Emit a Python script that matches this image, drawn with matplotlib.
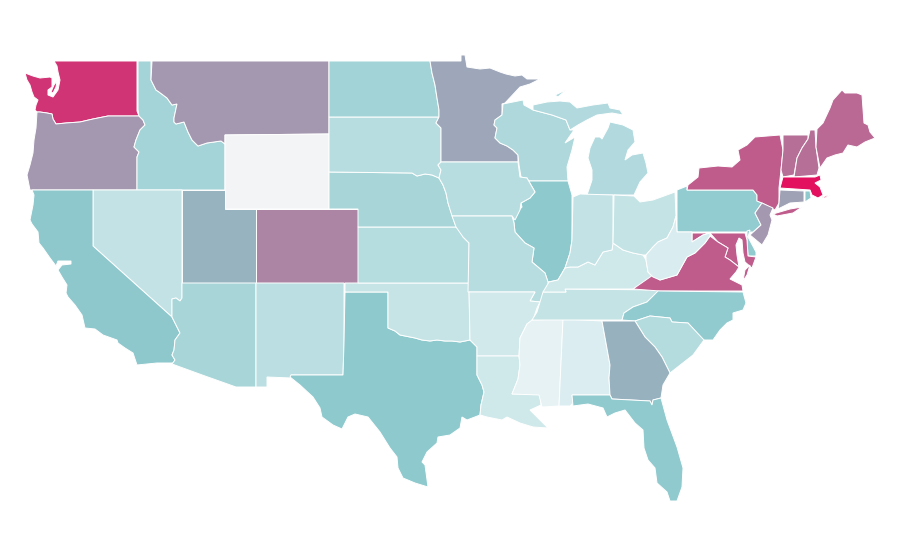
import matplotlib
matplotlib.use('Agg')
import matplotlib.pyplot as plt
from matplotlib.colors import LinearSegmentedColormap, Normalize
from matplotlib.patches import Polygon

# value per state (0-100)
state_names = ['WA','OR','ID','MT','WY','CO','UT','NV','CA','AZ','NM','TX','OK','KS','NE','SD','ND','MN',
               'WI','MI','IL','IA','MO','AR','LA','MS','AL','TN','KY','IN','OH','PA','NY','VT','NH','ME',
               'MA','CT','RI','NJ','DE','MD','VA','WV','NC','SC','GA','FL']
state_values = [88,56,31,56,0,62,47,19,41,30,22,40,17.5,24,30,23,32,51,
                27,25,40,23,23,13,14,5,9,18,14,19,18,37.5,75,69,69,71,
                100,53,39,56,38,75,75,10,38,24.5,48,39]

# outlines in picture units, one or more rings per state
outlines = {
'WA': [[(54,61),(137,61),(137,111),(139,116),(108,116),(93,119),(80,122),(66,123),(56,124),(53,119),(52,114),(47,113),(40,112),(37,112),(35,110),(36,105),(38,100),(34,97),(32,92),(30,85),(27,80),(25,73),(33,76),(40,78),(50,77),(52,78),(52,87),(48,90),(48,95),(53,97),(58,90),(60,80),(58,72),(57,66)],
       [(51,92),(54,85),(57,81),(56,87),(53,93)]],
'OR': [[(139,116),(108,116),(93,119),(80,122),(66,123),(56,124),(53,119),(52,114),(47,113),(40,112),(37,112),(36,128),(34,140),(33,153),(30,165),(27,175),(30,190),(137,190),(137,157),(139,152),(134,147),(136,140),(140,130),(145,125),(143,120)]],
'ID': [[(138,61),(151,61),(151,80),(156,90),(159,92),(167,98),(172,105),(177,104),(174,118),(174,122),(176,124),(184,122),(188,132),(192,140),(198,146),(207,143),(221,141),(225,144),(225,190),(137,190),(137,157),(139,152),(134,147),(136,140),(140,130),(145,125),(143,120),(139,116),(138,110)]],
'MT': [[(152,61),(329,61),(329,134),(225,135),(225,144),(221,141),(207,143),(198,146),(192,140),(188,132),(184,122),(176,124),(174,122),(174,118),(177,104),(172,105),(167,98),(159,92),(156,90),(151,80)]],
'WY': [[(225,135),(329,134),(329,209),(225,209)]],
'CO': [[(256,209),(358,209),(358,283),(256,283)]],
'UT': [[(182,190),(225,190),(225,209),(256,209),(256,283),(182,283)]],
'NV': [[(93,190),(182,190),(182,298),(180,301),(176,298),(172,299),(172,317),(93,246)]],
'CA': [[(32,190),(93,190),(93,246),(172,317),(176,325),(180,333),(175,340),(174,350),(172,355),(175,360),(173,363),(157,363),(137,365),(133,353),(125,348),(118,343),(117,340),(103,335),(95,329),(85,328),(82,315),(75,305),(68,297),(66,293),(67,285),(62,277),(58,270),(62,265),(71,264),(71,261),(58,261),(56,266),(50,258),(43,248),(39,243),(38,232),(32,224),(30,220),(33,205),(34,195)]],
'AZ': [[(182,283),(256,283),(256,387),(236,387),(205,376),(172,364),(175,360),(172,355),(174,350),(175,340),(180,333),(176,325),(172,317),(172,299),(176,298),(180,301),(182,298)]],
'NM': [[(256,283),(344,283),(344,343),(343,375),(291,375),(291,378),(267,377),(267,387),(256,387)]],
'TX': [[(345,292),(388,292),(388,328),(395,331),(400,335),(405,336),(415,338),(422,340),(430,341),(437,340),(445,341),(452,341),(460,342),(470,340),(477,347),(477,375),(482,385),(484,392),(481,405),(480,415),(467,420),(462,417),(460,428),(450,435),(438,437),(437,443),(427,452),(422,462),(425,465),(428,487),(415,483),(403,478),(398,468),(397,457),(390,448),(380,432),(368,417),(355,414),(348,417),(342,429),(333,425),(322,417),(320,408),(313,397),(300,385),(290,377),(291,375),(343,375),(344,343)]],
'OK': [[(345,283),(469,283),(470,340),(460,342),(452,341),(445,341),(437,340),(430,341),(422,340),(415,338),(405,336),(400,335),(395,331),(388,328),(388,292),(345,292)]],
'KS': [[(358,227),(456,227),(462,232),(463,237),(469,243),(469,283),(358,283)]],
'NE': [[(329,172),(412,173),(417,176),(425,174),(432,175),(439,178),(443,185),(446,193),(448,203),(452,215),(456,227),(358,227),(358,209),(329,209)]],
'SD': [[(329,117),(439,117),(436,123),(441,128),(441,162),(438,165),(441,170),(439,178),(432,175),(425,174),(417,176),(412,173),(329,172)]],
'ND': [[(329,61),(430,61),(432,73),(435,85),(437,98),(439,110),(439,117),(329,117)]],
'MN': [[(430,61),(461,61),(461,55),(465,55),(467,67),(480,69),(490,68),(500,72),(506,74),(515,76),(522,75),(527,79),(540,79),(530,84),(520,87),(505,103),(502,104),(502,115),(495,120),(494,125),(497,128),(495,138),(500,143),(507,146),(513,150),(518,155),(518,162),(441,162),(441,128),(436,123),(439,117),(439,110),(437,98),(435,85),(432,73)]],
'WI': [[(503,104),(523,100),(524,105),(533,110),(552,115),(566,120),(570,130),(574,130),(565,143),(575,137),(572,150),(567,167),(568,181),(528,181),(521,177),(519,165),(518,155),(513,150),(507,146),(500,143),(495,138),(497,128),(494,125),(495,120),(502,115)]],
'MI': [[(533,110),(533,105),(547,102),(560,101),(570,102),(577,108),(593,105),(608,103),(610,108),(620,110),(623,115),(612,113),(597,115),(587,120),(578,125),(570,130),(566,120),(552,115)],
       [(610,122),(623,125),(633,130),(635,142),(628,150),(625,160),(632,155),(643,153),(646,163),(648,173),(640,182),(634,195),(587,195),(592,180),(592,170),(588,158),(590,148),(595,137),(600,137),(602,139),(608,128)],
       [(555,95),(566,90),(558,97)]],
'IL': [[(528,181),(568,181),(572,195),(572,240),(570,253),(565,268),(558,280),(548,282),(545,273),(532,262),(534,248),(525,243),(515,232),(514,223),(513,217),(522,207),(521,203),(530,198),(535,192),(527,178),(520,177)]],
'IA': [[(441,162),(518,162),(520,177),(527,178),(535,192),(530,198),(521,203),(520,210),(515,220),(512,216),(452,216),(448,203),(446,193),(443,185),(439,178),(441,170),(438,165)]],
'MO': [[(452,216),(512,216),(514,223),(515,232),(525,243),(534,248),(532,262),(545,273),(548,282),(548,288),(545,295),(540,302),(530,301),(535,292),(468,292),(469,243),(463,237),(456,227)]],
'AR': [[(469,292),(535,292),(530,301),(540,302),(537,308),(533,320),(527,324),(520,338),(519,356),(477,356),(477,347),(470,340)]],
'LA': [[(477,356),(519,356),(520,365),(518,379),(512,394),(540,394),(541,405),(530,410),(537,417),(540,420),(548,428),(533,427),(520,423),(507,417),(502,420),(487,417),(480,415),(481,405),(484,392),(482,385),(477,375)]],
'MS': [[(532,320),(563,319),(559,406),(542,407),(539,395),(512,394),(518,379),(520,365),(519,356),(520,338),(527,324)]],
'AL': [[(563,319),(602,321),(610,365),(609,378),(610,395),(572,395),(573,403),(570,406),(559,406)]],
'TN': [[(543,292),(566,292),(565,289),(660,290),(647,302),(633,307),(624,313),(622,320),(532,320),(537,312)]],
'KY': [[(549,282),(558,280),(565,268),(570,267),(578,267),(588,262),(595,265),(603,252),(612,250),(613,243),(623,250),(633,253),(643,255),(646,260),(648,272),(653,277),(633,289),(565,289),(566,292),(543,292)]],
'IN': [[(573,197),(580,194),(613,195),(613,243),(612,250),(603,252),(595,265),(588,262),(578,267),(570,267),(565,268),(570,253),(572,240)]],
'OH': [[(614,195),(634,196),(640,202),(653,200),(675,192),(676,216),(673,227),(667,238),(658,242),(653,247),(646,255),(643,255),(633,253),(623,250),(613,243)]],
'PA': [[(677,190),(687,186),(687,190),(753,190),(757,195),(757,201),(762,203),(755,213),(757,217),(761,225),(753,232),(677,232)]],
'NY': [[(687,190),(688,185),(698,177),(699,168),(718,166),(732,167),(740,160),(738,150),(747,145),(755,137),(780,135),(783,150),(781,170),(779,188),(779,203),(775,210),(762,203),(757,201),(757,195),(753,190)],
       [(773,214),(790,209),(802,207),(793,213),(777,216)]],
'VT': [[(783,135),(808,135),(808,139),(802,148),(797,158),(794,175),(783,177),(781,170),(783,150)]],
'NH': [[(810,130),(815,130),(816,147),(819,168),(817,175),(794,177),(797,158),(802,148),(808,139)]],
'ME': [[(817,129),(823,123),(830,108),(833,100),(842,90),(845,93),(857,93),(862,95),(864,123),(868,125),(870,132),(875,138),(865,142),(857,147),(848,145),(843,153),(835,155),(827,158),(820,168),(816,147)]],
'MA': [[(783,177),(815,177),(820,175),(821,180),(815,183),(820,187),(823,195),(818,198),(812,195),(810,190),(780,188)],
       [(822,197),(830,195),(825,198)]],
'CT': [[(780,190),(804,191),(804,202),(790,203),(778,209),(779,203)]],
'RI': [[(805,191),(810,191),(811,198),(805,202)]],
'NJ': [[(762,203),(773,208),(770,215),(772,220),(768,235),(762,245),(750,235),(761,225),(757,217),(755,213)]],
'DE': [[(747,231),(750,230),(748,237),(756,252),(756,256),(748,256),(747,240)]],
'MD': [[(692,233),(745,233),(747,240),(748,256),(756,257),(752,268),(745,262),(743,253),(742,240),(739,238),(736,245),(737,255),(739,267),(730,260),(725,257),(728,248),(718,242),(710,233),(703,235),(692,242)]],
'VA': [[(633,289),(653,275),(660,280),(677,275),(687,257),(695,253),(705,243),(710,236),(718,242),(728,248),(725,257),(730,260),(739,267),(736,272),(730,279),(742,285),(743,291),(660,291)],
       [(750,265),(747,275),(743,281),(745,270)]],
'WV': [[(676,216),(677,232),(692,232),(692,242),(703,235),(710,233),(710,236),(705,243),(695,253),(687,257),(677,275),(660,280),(653,277),(648,272),(646,260),(646,255),(653,247),(658,242),(667,238),(673,227)]],
'NC': [[(658,291),(743,292),(746,303),(743,310),(733,313),(733,320),(727,323),(720,330),(713,340),(703,340),(688,323),(672,322),(670,318),(650,316),(635,321),(622,320),(624,313),(633,307),(647,302)]],
'SC': [[(635,321),(650,316),(670,318),(672,322),(688,323),(704,340),(693,355),(670,373),(667,367),(662,357),(655,347),(645,337)]],
'GA': [[(602,321),(635,321),(645,337),(655,347),(662,357),(667,367),(670,373),(663,385),(661,398),(653,400),(652,405),(650,401),(612,399),(610,395),(609,378),(610,365)]],
'FL': [[(572,395),(610,395),(612,399),(650,401),(652,405),(653,400),(661,398),(667,420),(677,447),(683,468),(682,487),(677,501),(670,501),(667,492),(657,483),(655,468),(648,460),(644,448),(643,430),(635,423),(625,410),(615,413),(607,417),(603,408),(588,404),(573,406)]],
}

cmap = LinearSegmentedColormap.from_list('map', [(0,'#f2f4f6'),(0.05,'#e5f2f4'),(0.4,'#8dc9cd'),(1,'#e2105f')])
norm = Normalize(0, 100)

fig = plt.figure(figsize=(9, 5.6), dpi=100)
ax = fig.add_axes([0, 0, 1, 1])
ax.set_xlim(0, 900)
ax.set_ylim(560, 0)
ax.axis('off')

for name, val in zip(state_names, state_values):
    for ring in outlines[name]:
        ax.add_patch(Polygon(ring, closed=True, facecolor=cmap(norm(val)), edgecolor='white', linewidth=0.7))

fig.savefig('out.png', dpi=100)
